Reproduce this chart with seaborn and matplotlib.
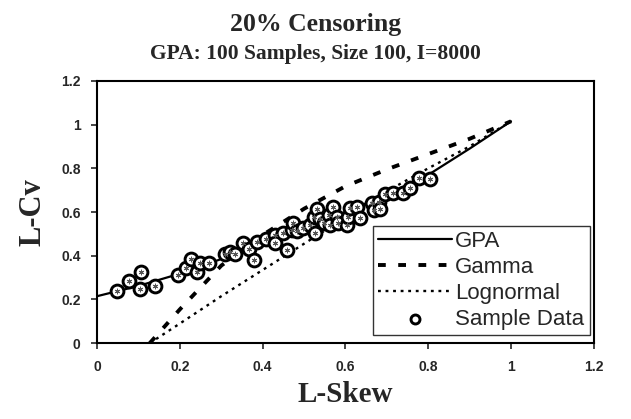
import matplotlib
matplotlib.use("Agg")
import matplotlib.pyplot as plt
import numpy as np
import pandas as pd
import seaborn as sns
from matplotlib.ticker import FuncFormatter

### Dados
gpa_skew = [0.0, 0.1, 0.2, 0.3, 0.4, 0.5, 0.6, 0.7, 0.8, 0.9, 1.0]
gpa_cv = [0.215, 0.262, 0.318, 0.385, 0.455, 0.525, 0.600, 0.680, 0.770, 0.890, 1.015]

gamma_skew = [0.127, 0.2, 0.3, 0.4, 0.45, 0.5, 0.6, 0.7, 0.8, 0.9, 1.0]
gamma_cv = [0.0, 0.155, 0.355, 0.495, 0.555, 0.615, 0.718, 0.795, 0.865, 0.935, 1.015]

logn_skew = [0.127, 0.2, 0.3, 0.4, 0.5, 0.6, 0.7, 0.8, 0.9, 1.0]
logn_cv = [0.0, 0.09, 0.215, 0.335, 0.455, 0.575, 0.695, 0.80, 0.90, 1.015]

sample_skew = [0.048, 0.078, 0.106, 0.104, 0.139, 0.195, 0.215, 0.227, 0.241, 0.249,
               0.271, 0.308, 0.321, 0.333, 0.352, 0.368, 0.378, 0.387, 0.408, 0.430,
               0.430, 0.450, 0.458, 0.470, 0.474, 0.482, 0.498, 0.514, 0.527, 0.523,
               0.532, 0.539, 0.547, 0.559, 0.563, 0.569, 0.580, 0.583, 0.603, 0.607,
               0.611, 0.627, 0.635, 0.663, 0.668, 0.682, 0.684, 0.696, 0.716, 0.738,
               0.755, 0.778, 0.805]
sample_cv = [0.240, 0.286, 0.324, 0.248, 0.263, 0.312, 0.343, 0.384, 0.327, 0.368,
             0.368, 0.407, 0.419, 0.410, 0.460, 0.430, 0.381, 0.465, 0.476, 0.495,
             0.460, 0.503, 0.427, 0.518, 0.552, 0.515, 0.526, 0.541, 0.503, 0.576,
             0.613, 0.567, 0.549, 0.587, 0.541, 0.625, 0.579, 0.549, 0.541, 0.579,
             0.618, 0.625, 0.572, 0.641, 0.610, 0.648, 0.613, 0.683, 0.687, 0.687,
             0.712, 0.755, 0.750]

x_ticks = [0, 0.2, 0.4, 0.6, 0.8, 1.0, 1.2]
y_ticks = [0, 0.2, 0.4, 0.6, 0.8, 1.0, 1.2]

sns.set_style("white")
plt.rcParams['font.family'] = ['Liberation Sans', 'DejaVu Sans']

fig = plt.figure(figsize=(6.31, 4.19), dpi=100)
ax = fig.add_axes([0.154, 0.181, 0.787, 0.626])

# linhas teóricas
sns.lineplot(x=gpa_skew, y=gpa_cv, ax=ax, color='black', linewidth=1.6, label='GPA')
sns.lineplot(x=gamma_skew, y=gamma_cv, ax=ax, color='black', linewidth=2.8, label='Gamma')
sns.lineplot(x=logn_skew, y=logn_cv, ax=ax, color='black', linewidth=1.7, label='Lognormal')
ax.lines[1].set_dashes((2.0, 3.2))
ax.lines[2].set_dashes((1.2, 2.0))

# pontos amostrais
sns.scatterplot(x=sample_skew, y=sample_cv, ax=ax, s=85, color='white',
                edgecolor='black', linewidth=2.1, zorder=3, label='Sample Data')
ax.scatter(sample_skew, sample_cv, s=12, marker=(6, 2, 0), color='#555555',
           linewidths=0.7, zorder=4)

ax.set_xlim(0, 1.2)
ax.set_ylim(0, 1.2)
ax.set_xticks(x_ticks)
ax.set_yticks(y_ticks)
fmt = FuncFormatter(lambda v, p: '%g' % v)
ax.xaxis.set_major_formatter(fmt)
ax.yaxis.set_major_formatter(fmt)
ax.tick_params(direction='out', length=4, width=1.2, labelsize=10, pad=8,
               bottom=True, left=True)
for lbl in ax.get_xticklabels() + ax.get_yticklabels():
    lbl.set_fontweight('bold')
for sp in ax.spines.values():
    sp.set_visible(True)
    sp.set_color('black')
    sp.set_linewidth(1.5)

ax.set_xlabel('L-Skew', fontsize=21, fontweight='bold', family='Liberation Serif', labelpad=5)
ax.set_ylabel('L-Cv', fontsize=22, fontweight='bold', family='Liberation Serif', labelpad=10)

fig.text(0.5, 0.925, '20% Censoring', ha='center', fontsize=18.5, fontweight='bold',
         family='Liberation Serif')
fig.text(0.5, 0.86, 'GPA: 100 Samples, Size 100, I=8000', ha='center', fontsize=15.5,
         fontweight='bold', family='Liberation Serif')

leg = ax.legend(loc='lower right', bbox_to_anchor=(0.992, 0.03), fontsize=16,
                handlelength=3.3, handletextpad=0.15, borderpad=0.25, labelspacing=0.22,
                markerscale=0.7, fancybox=False, frameon=True, borderaxespad=0)
leg.get_frame().set_edgecolor('black')
leg.get_frame().set_linewidth(1.0)

fig.savefig('out.png', dpi=100)
